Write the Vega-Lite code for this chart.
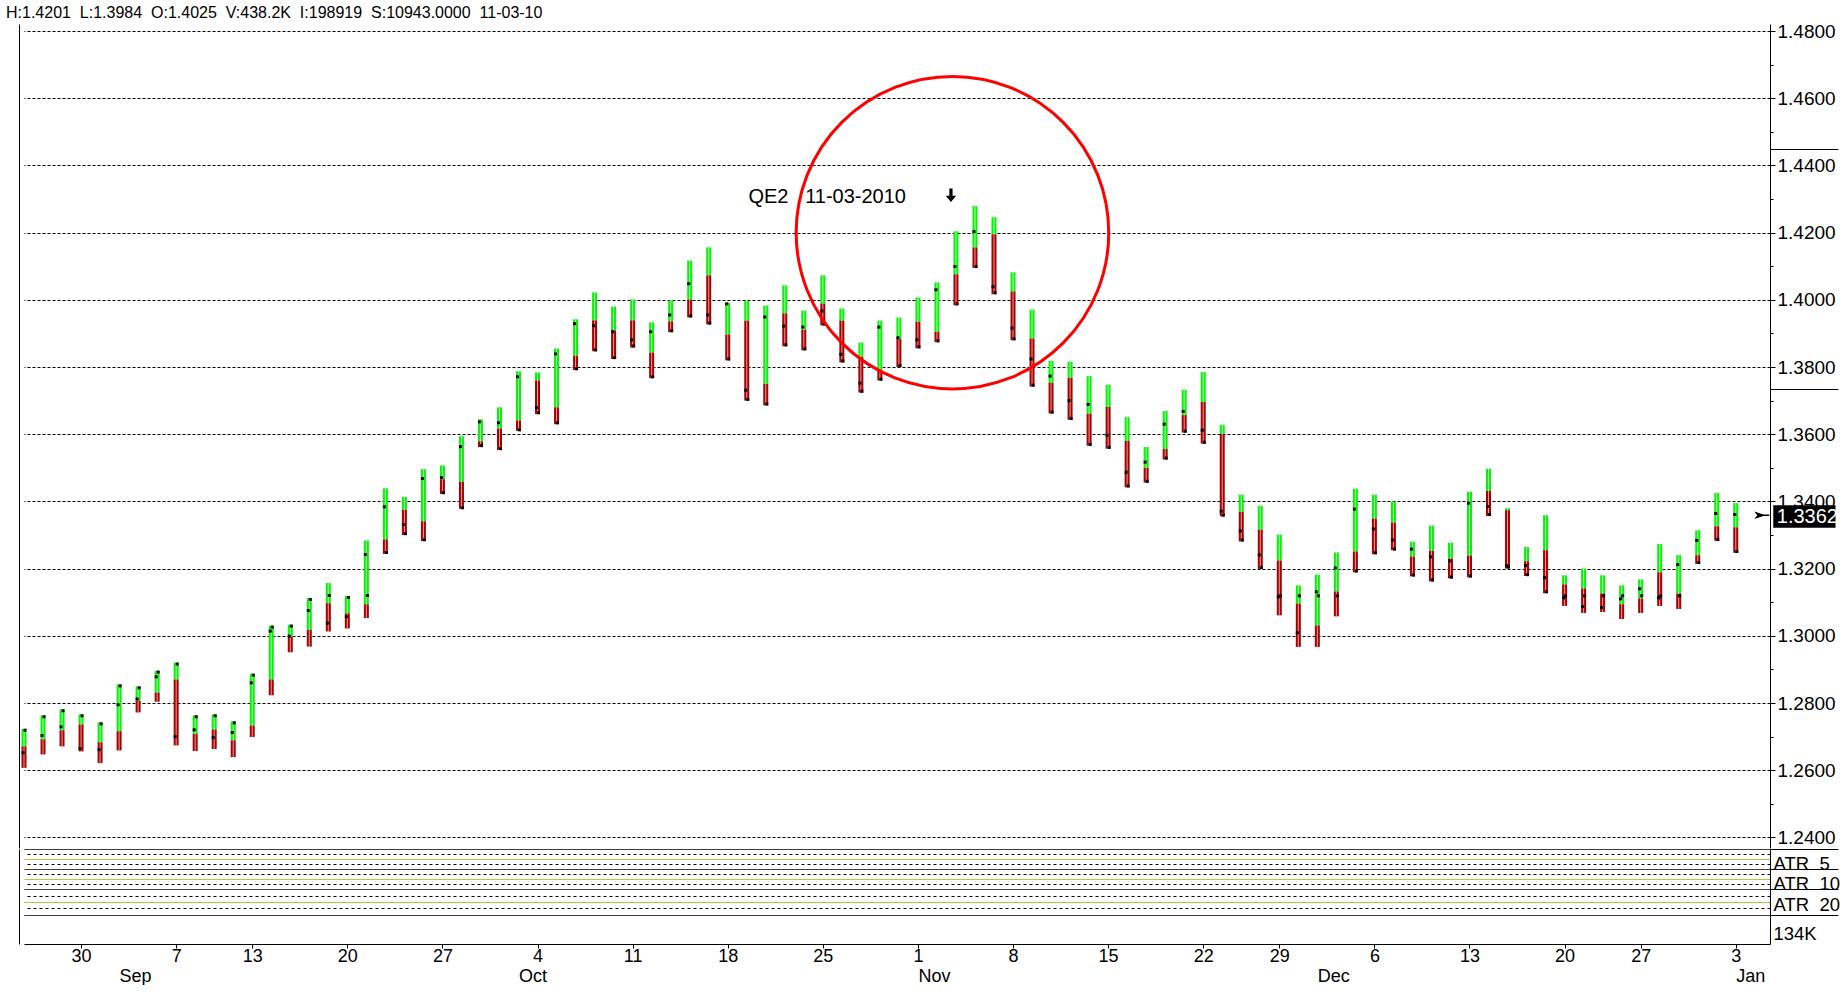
{
  "$schema": "https://vega.github.io/schema/vega-lite/v6.json",
  "background": "white",
  "padding": {"left": 6, "top": 4, "right": 0, "bottom": 0},
  "title": {"text": "H:1.4201\u00a0\u00a0L:1.3984\u00a0\u00a0O:1.4025\u00a0\u00a0V:438.2K\u00a0\u00a0I:198919\u00a0\u00a0S:10943.0000\u00a0\u00a011-03-10", "anchor": "start", "frame": "group", "font": "Liberation Sans", "fontSize": 16, "fontWeight": "normal", "color": "black", "offset": 1.5, "dx": -18},
  "config": {"view": {"stroke": null}, "axis": {"labelFont": "Liberation Sans", "labelColor": "black", "tickColor": "black", "domainColor": "black"}},
  "datasets": {
    "bars": [
      {"d":"2010-08-25","high":1.2723,"split":1.2671,"low":1.2607,"open":1.2652,"close":1.2719},
      {"d":"2010-08-26","high":1.2763,"split":1.2692,"low":1.2647,"open":1.2703,"close":1.2759},
      {"d":"2010-08-27","high":1.2781,"split":1.2719,"low":1.2671,"open":1.2729,"close":1.2777},
      {"d":"2010-08-30","high":1.2766,"split":1.2736,"low":1.2656,"open":1.2664,"close":1.2762},
      {"d":"2010-08-31","high":1.2742,"split":1.2683,"low":1.2621,"open":1.2661,"close":1.2738},
      {"d":"2010-09-01","high":1.2855,"split":1.2716,"low":1.2659,"open":1.2795,"close":1.2851},
      {"d":"2010-09-02","high":1.2849,"split":1.2807,"low":1.2772,"open":1.2812,"close":1.2845},
      {"d":"2010-09-03","high":1.2896,"split":1.2831,"low":1.2804,"open":1.2878,"close":1.2892},
      {"d":"2010-09-07","high":1.2920,"split":1.2870,"low":1.2674,"open":1.2700,"close":1.2916},
      {"d":"2010-09-08","high":1.2763,"split":1.2708,"low":1.2657,"open":1.2720,"close":1.2759},
      {"d":"2010-09-09","high":1.2766,"split":1.2721,"low":1.2663,"open":1.2697,"close":1.2762},
      {"d":"2010-09-10","high":1.2745,"split":1.2689,"low":1.2639,"open":1.2712,"close":1.2741},
      {"d":"2010-09-13","high":1.2887,"split":1.2733,"low":1.2699,"open":1.2860,"close":1.2883},
      {"d":"2010-09-14","high":1.3030,"split":1.2870,"low":1.2823,"open":1.3014,"close":1.3026},
      {"d":"2010-09-15","high":1.3033,"split":1.2997,"low":1.2951,"open":1.2999,"close":1.3029},
      {"d":"2010-09-16","high":1.3112,"split":1.3018,"low":1.2968,"open":1.3075,"close":1.3108},
      {"d":"2010-09-17","high":1.3157,"split":1.3097,"low":1.3013,"open":1.3038,"close":1.3120},
      {"d":"2010-09-20","high":1.3118,"split":1.3067,"low":1.3022,"open":1.3057,"close":1.3114},
      {"d":"2010-09-21","high":1.3284,"split":1.3094,"low":1.3053,"open":1.3242,"close":1.3120},
      {"d":"2010-09-22","high":1.3439,"split":1.3287,"low":1.3244,"open":1.3384,"close":1.3248},
      {"d":"2010-09-23","high":1.3413,"split":1.3375,"low":1.3300,"open":1.3331,"close":1.3304},
      {"d":"2010-09-24","high":1.3496,"split":1.3341,"low":1.3282,"open":1.3468,"close":1.3286},
      {"d":"2010-09-27","high":1.3507,"split":1.3466,"low":1.3422,"open":1.3471,"close":1.3426},
      {"d":"2010-09-28","high":1.3594,"split":1.3458,"low":1.3378,"open":1.3563,"close":1.3381},
      {"d":"2010-09-29","high":1.3644,"split":1.3579,"low":1.3562,"open":1.3637,"close":1.3566},
      {"d":"2010-09-30","high":1.3680,"split":1.3617,"low":1.3553,"open":1.3634,"close":1.3557},
      {"d":"2010-10-01","high":1.3787,"split":1.3641,"low":1.3610,"open":1.3771,"close":1.3613},
      {"d":"2010-10-04","high":1.3784,"split":1.3760,"low":1.3660,"open":1.3679,"close":1.3664},
      {"d":"2010-10-05","high":1.3855,"split":1.3680,"low":1.3630,"open":1.3839,"close":1.3634},
      {"d":"2010-10-06","high":1.3942,"split":1.3834,"low":1.3791,"open":1.3929,"close":1.3795},
      {"d":"2010-10-07","high":1.4022,"split":1.3939,"low":1.3847,"open":1.3923,"close":1.3851},
      {"d":"2010-10-08","high":1.3980,"split":1.3909,"low":1.3824,"open":1.3905,"close":1.3828},
      {"d":"2010-10-11","high":1.4001,"split":1.3939,"low":1.3858,"open":1.3881,"close":1.3863},
      {"d":"2010-10-12","high":1.3933,"split":1.3843,"low":1.3767,"open":1.3905,"close":1.3771},
      {"d":"2010-10-13","high":1.3998,"split":1.3936,"low":1.3904,"open":1.3955,"close":1.3908},
      {"d":"2010-10-14","high":1.4117,"split":1.4001,"low":1.3948,"open":1.4048,"close":1.3952},
      {"d":"2010-10-15","high":1.4156,"split":1.4073,"low":1.3927,"open":1.3955,"close":1.3931},
      {"d":"2010-10-18","high":1.3991,"split":1.3897,"low":1.3820,"open":1.3988,"close":1.3824},
      {"d":"2010-10-19","high":1.3997,"split":1.3938,"low":1.3700,"open":1.3731,"close":1.3704},
      {"d":"2010-10-20","high":1.3983,"split":1.3750,"low":1.3686,"open":1.3949,"close":1.3690},
      {"d":"2010-10-21","high":1.4043,"split":1.3960,"low":1.3862,"open":1.3922,"close":1.3866},
      {"d":"2010-10-22","high":1.3968,"split":1.3911,"low":1.3850,"open":1.3919,"close":1.3854},
      {"d":"2010-10-25","high":1.4073,"split":1.3989,"low":1.3924,"open":1.3967,"close":1.3928},
      {"d":"2010-10-26","high":1.3974,"split":1.3938,"low":1.3814,"open":1.3838,"close":1.3818},
      {"d":"2010-10-27","high":1.3873,"split":1.3830,"low":1.3724,"open":1.3752,"close":1.3728},
      {"d":"2010-10-28","high":1.3938,"split":1.3792,"low":1.3760,"open":1.3919,"close":1.3764},
      {"d":"2010-10-29","high":1.3947,"split":1.3883,"low":1.3800,"open":1.3887,"close":1.3804},
      {"d":"2010-11-01","high":1.4007,"split":1.3935,"low":1.3856,"open":1.3881,"close":1.3860},
      {"d":"2010-11-02","high":1.4052,"split":1.3905,"low":1.3874,"open":1.4030,"close":1.3878},
      {"d":"2010-11-03","high":1.4204,"split":1.4076,"low":1.3984,"open":1.4099,"close":1.3988},
      {"d":"2010-11-04","high":1.4279,"split":1.4156,"low":1.4095,"open":1.4203,"close":1.4099},
      {"d":"2010-11-05","high":1.4246,"split":1.4195,"low":1.4017,"open":1.4039,"close":1.4021},
      {"d":"2010-11-08","high":1.4082,"split":1.4025,"low":1.3880,"open":1.3916,"close":1.3884},
      {"d":"2010-11-09","high":1.3971,"split":1.3885,"low":1.3742,"open":1.3824,"close":1.3746},
      {"d":"2010-11-10","high":1.3819,"split":1.3753,"low":1.3662,"open":1.3773,"close":1.3666},
      {"d":"2010-11-11","high":1.3816,"split":1.3768,"low":1.3643,"open":1.3700,"close":1.3647},
      {"d":"2010-11-12","high":1.3773,"split":1.3661,"low":1.3566,"open":1.3689,"close":1.3570},
      {"d":"2010-11-15","high":1.3747,"split":1.3681,"low":1.3557,"open":1.3597,"close":1.3561},
      {"d":"2010-11-16","high":1.3651,"split":1.3580,"low":1.3442,"open":1.3487,"close":1.3446},
      {"d":"2010-11-17","high":1.3562,"split":1.3500,"low":1.3456,"open":1.3517,"close":1.3460},
      {"d":"2010-11-18","high":1.3669,"split":1.3556,"low":1.3525,"open":1.3630,"close":1.3529},
      {"d":"2010-11-19","high":1.3732,"split":1.3657,"low":1.3605,"open":1.3668,"close":1.3609},
      {"d":"2010-11-22","high":1.3785,"split":1.3696,"low":1.3572,"open":1.3612,"close":1.3576},
      {"d":"2010-11-23","high":1.3628,"split":1.3601,"low":1.3356,"open":1.3371,"close":1.3359},
      {"d":"2010-11-24","high":1.3420,"split":1.3369,"low":1.3281,"open":1.3312,"close":1.3285},
      {"d":"2010-11-26","high":1.3387,"split":1.3316,"low":1.3199,"open":1.3241,"close":1.3203},
      {"d":"2010-11-29","high":1.3301,"split":1.3224,"low":1.3061,"open":1.3116,"close":1.3119},
      {"d":"2010-11-30","high":1.3150,"split":1.3096,"low":1.2967,"open":1.3009,"close":1.3119},
      {"d":"2010-12-01","high":1.3182,"split":1.3031,"low":1.2967,"open":1.3131,"close":1.3119},
      {"d":"2010-12-02","high":1.3248,"split":1.3132,"low":1.3058,"open":1.3202,"close":1.3119},
      {"d":"2010-12-03","high":1.3438,"split":1.3251,"low":1.3189,"open":1.3377,"close":1.3193},
      {"d":"2010-12-06","high":1.3420,"split":1.3349,"low":1.3243,"open":1.3318,"close":1.3247},
      {"d":"2010-12-07","high":1.3399,"split":1.3337,"low":1.3255,"open":1.3285,"close":1.3258},
      {"d":"2010-12-08","high":1.3280,"split":1.3236,"low":1.3177,"open":1.3258,"close":1.3181},
      {"d":"2010-12-09","high":1.3328,"split":1.3253,"low":1.3162,"open":1.3235,"close":1.3166},
      {"d":"2010-12-10","high":1.3277,"split":1.3230,"low":1.3171,"open":1.3223,"close":1.3175},
      {"d":"2010-12-13","high":1.3429,"split":1.3239,"low":1.3174,"open":1.3395,"close":1.3178},
      {"d":"2010-12-14","high":1.3497,"split":1.3431,"low":1.3357,"open":1.3385,"close":1.3361},
      {"d":"2010-12-15","high":1.3380,"split":1.3374,"low":1.3200,"open":1.3209,"close":1.3205},
      {"d":"2010-12-16","high":1.3264,"split":1.3222,"low":1.3178,"open":1.3209,"close":1.3182},
      {"d":"2010-12-17","high":1.3359,"split":1.3255,"low":1.3127,"open":1.3173,"close":1.3131},
      {"d":"2010-12-20","high":1.3180,"split":1.3153,"low":1.3089,"open":1.3113,"close":1.3119},
      {"d":"2010-12-21","high":1.3200,"split":1.3141,"low":1.3068,"open":1.3087,"close":1.3119},
      {"d":"2010-12-22","high":1.3180,"split":1.3126,"low":1.3071,"open":1.3084,"close":1.3119},
      {"d":"2010-12-23","high":1.3150,"split":1.3094,"low":1.3050,"open":1.3110,"close":1.3119},
      {"d":"2010-12-27","high":1.3168,"split":1.3111,"low":1.3068,"open":1.3140,"close":1.3119},
      {"d":"2010-12-28","high":1.3273,"split":1.3189,"low":1.3089,"open":1.3113,"close":1.3119},
      {"d":"2010-12-29","high":1.3240,"split":1.3126,"low":1.3080,"open":1.3212,"close":1.3119},
      {"d":"2010-12-30","high":1.3314,"split":1.3240,"low":1.3214,"open":1.3284,"close":1.3218},
      {"d":"2010-12-31","high":1.3425,"split":1.3326,"low":1.3283,"open":1.3364,"close":1.3287},
      {"d":"2011-01-03","high":1.3395,"split":1.3323,"low":1.3247,"open":1.3361,"close":1.3251}
    ],
    "qe2": [{"d":"2010-11-03","price":1.4310,"center":1.42,"label":"QE2\u00a0\u00a0\u00a011-03-2010"}],
    "last": [{"d":"2011-01-03","price":1.3362,"label":"1.3362"}]
  },
  "vconcat": [
    {
      "width": 1746,
      "height": 824,
      "data": {"name": "bars"},
      "layer": [
        {"mark": {"type": "rule", "strokeWidth": 5, "color": "#0af00a"},
         "encoding": {
           "x": {"field": "d", "type": "ordinal", "scale": {"type": "point", "padding": 0.9, "align": 0}, "axis": null},
           "y": {"field": "split", "type": "quantitative", "scale": {"domain": [1.23684, 1.48211], "nice": false, "zero": false},
                 "axis": {"orient": "right", "title": null, "values": [1.24,1.26,1.28,1.30,1.32,1.34,1.36,1.38,1.40,1.42,1.44,1.46,1.48], "format": ".4f", "labelFontSize": 19, "labelPadding": 2, "tickSize": 5, "grid": true, "gridColor": "black", "gridDash": [3,2], "gridOpacity": 1, "labelOverlap": false, "labelFlush": false}},
           "y2": {"field": "high"}}},
        {"mark": {"type": "rule", "strokeWidth": 5, "color": "#a60000"},
         "encoding": {
           "x": {"field": "d", "type": "ordinal", "scale": {"type": "point", "padding": 0.9, "align": 0}, "axis": null},
           "y": {"field": "low", "type": "quantitative", "scale": {"domain": [1.23684, 1.48211], "nice": false, "zero": false},
                 "axis": {"orient": "right", "title": null, "values": [1.25,1.27,1.29,1.31,1.33,1.35,1.37,1.39,1.41,1.43,1.45,1.47], "labels": false, "grid": false, "domain": false, "tickSize": 3}},
           "y2": {"field": "split"}}},
        {"mark": {"type": "rule", "strokeWidth": 1, "color": "#a8ffa8"},
         "encoding": {
           "x": {"field": "d", "type": "ordinal", "scale": {"type": "point", "padding": 0.9, "align": 0}, "axis": null},
           "y": {"field": "split", "type": "quantitative", "scale": {"domain": [1.23684, 1.48211], "nice": false, "zero": false},
                 "axis": {"orient": "right", "title": null, "values": [1.4449, 1.3735], "labels": false, "grid": false, "domain": false, "tickSize": 68}},
           "y2": {"field": "high"}}},
        {"mark": {"type": "rule", "strokeWidth": 1, "color": "#e3a0a0"},
         "encoding": {
           "x": {"field": "d", "type": "ordinal", "scale": {"type": "point", "padding": 0.9, "align": 0}, "axis": null},
           "y": {"field": "low", "type": "quantitative", "scale": {"domain": [1.23684, 1.48211], "nice": false, "zero": false},
                 "axis": {"orient": "left", "title": null, "offset": 5, "labels": false, "ticks": false, "grid": false, "domain": true}},
           "y2": {"field": "split"}}},
        {"mark": {"type": "point", "shape": "square", "size": 9, "filled": true, "color": "black", "opacity": 1, "xOffset": -1},
         "encoding": {
           "x": {"field": "d", "type": "ordinal", "scale": {"type": "point", "padding": 0.9, "align": 0}, "axis": null},
           "y": {"field": "open", "type": "quantitative", "scale": {"domain": [1.23684, 1.48211], "nice": false, "zero": false}, "axis": null}}},
        {"mark": {"type": "point", "shape": "square", "size": 9, "filled": true, "color": "black", "opacity": 1, "xOffset": 1},
         "encoding": {
           "x": {"field": "d", "type": "ordinal", "scale": {"type": "point", "padding": 0.9, "align": 0}, "axis": null},
           "y": {"field": "close", "type": "quantitative", "scale": {"domain": [1.23684, 1.48211], "nice": false, "zero": false}, "axis": null}}},
        {"data": {"name": "qe2"},
         "mark": {"type": "point", "shape": "circle", "size": 97700, "filled": false, "stroke": "#ff0000", "strokeWidth": 3, "opacity": 1, "xOffset": -3.5},
         "encoding": {
           "x": {"field": "d", "type": "ordinal", "scale": {"type": "point", "padding": 0.9, "align": 0}, "axis": null},
           "y": {"field": "center", "type": "quantitative", "scale": {"domain": [1.23684, 1.48211], "nice": false, "zero": false}, "axis": null}}},
        {"data": {"name": "qe2"},
         "mark": {"type": "point", "shape": "M-0.2,-0.9H0.2V0H0.65L0,0.8L-0.65,0H-0.2Z", "size": 256, "filled": true, "color": "black", "opacity": 1, "xOffset": -5},
         "encoding": {
           "x": {"field": "d", "type": "ordinal", "scale": {"type": "point", "padding": 0.9, "align": 0}, "axis": null},
           "y": {"field": "price", "type": "quantitative", "scale": {"domain": [1.23684, 1.48211], "nice": false, "zero": false}, "axis": null}}},
        {"data": {"name": "qe2"},
         "mark": {"type": "text", "align": "right", "baseline": "middle", "dx": -50, "dy": 1, "font": "Liberation Sans", "fontSize": 20, "color": "black"},
         "encoding": {
           "x": {"field": "d", "type": "ordinal", "scale": {"type": "point", "padding": 0.9, "align": 0}, "axis": null},
           "y": {"field": "price", "type": "quantitative", "scale": {"domain": [1.23684, 1.48211], "nice": false, "zero": false}, "axis": null},
           "text": {"field": "label"}}},
        {"data": {"name": "last"},
         "mark": {"type": "point", "shape": "M0.37,-0.055L0.6,0.02L0.37,0.095L0.43,0.02Z M0.55,0.006H0.67V0.034H0.55Z M0.75,-0.18H1.995V0.27H0.75Z", "size": 10000, "filled": true, "color": "black", "opacity": 1},
         "encoding": {
           "x": {"field": "d", "type": "ordinal", "scale": {"type": "point", "padding": 0.9, "align": 0}, "axis": null},
           "y": {"field": "price", "type": "quantitative", "scale": {"domain": [1.23684, 1.48211], "nice": false, "zero": false}, "axis": null}}},
        {"data": {"name": "last"},
         "mark": {"type": "text", "align": "left", "baseline": "middle", "dx": 41, "dy": 2.5, "font": "Liberation Sans", "fontSize": 20, "color": "white"},
         "encoding": {
           "x": {"field": "d", "type": "ordinal", "scale": {"type": "point", "padding": 0.9, "align": 0}, "axis": null},
           "y": {"field": "price", "type": "quantitative", "scale": {"domain": [1.23684, 1.48211], "nice": false, "zero": false}, "axis": null},
           "text": {"field": "label"}}}
      ],
      "resolve": {"axis": {"y": "independent"}}
    },
    {
      "width": 1746,
      "height": 95,
      "data": {"name": "bars"},
      "layer": [
        {"mark": {"type": "point", "opacity": 0},
         "encoding": {
           "x": {"field": "d", "type": "ordinal", "scale": {"type": "point", "padding": 0.9, "align": 0},
                 "axis": {"orient": "bottom", "title": null, "values": ["2010-08-30","2010-09-07","2010-09-13","2010-09-20","2010-09-27","2010-10-04","2010-10-11","2010-10-18","2010-10-25","2010-11-01","2010-11-08","2010-11-15","2010-11-22","2010-11-29","2010-12-06","2010-12-13","2010-12-20","2010-12-27","2011-01-03"],
                          "labelExpr": "toNumber(substring(datum.value, 8, 10))", "labelAngle": 0, "labelFontSize": 18, "labelPadding": -1, "tickSize": 4, "grid": false, "domain": true, "labelOverlap": false}},
           "y": {"datum": 50, "type": "quantitative", "scale": {"domain": [0, 95], "reverse": true, "nice": false, "zero": false},
                 "axis": {"orient": "right", "title": null, "values": [0, 5, 10, 15, 20, 25, 30, 35, 40, 46.7, 53, 59.4, 66], "labels": false, "domain": true, "grid": true, "gridOpacity": 1,
                          "gridColor": {"condition": {"test": "indexof([10, 30, 53], datum.value) >= 0", "value": "#7cc400"}, "value": "black"},
                          "gridDash": {"condition": {"test": "indexof([5, 15, 25, 35, 46.7, 59.4], datum.value) >= 0", "value": [3, 3]}, "value": [1, 0]},
                          "tickSize": 68,
                          "tickOpacity": {"condition": {"test": "indexof([0, 20, 40, 66], datum.value) >= 0", "value": 1}, "value": 0}}}}},
        {"mark": {"type": "point", "opacity": 0},
         "encoding": {
           "x": {"field": "d", "type": "ordinal", "scale": {"type": "point", "padding": 0.9, "align": 0},
                 "axis": {"orient": "bottom", "title": null, "values": ["2010-09-01","2010-10-01","2010-11-01","2010-12-01","2011-01-03"],
                          "labelExpr": "{'09':'Sep','10':'Oct','11':'Nov','12':'Dec','01':'Jan'}[substring(datum.value, 5, 7)]", "labelAngle": 0, "labelAlign": "left", "labelFontSize": 18, "labelPadding": 23, "ticks": true, "tickSize": 0, "tickOpacity": 0, "grid": false, "domain": false, "labelOverlap": false}},
           "y": {"datum": 50, "type": "quantitative", "scale": {"domain": [0, 95], "reverse": true, "nice": false, "zero": false},
                 "axis": {"orient": "right", "title": null, "values": [14.4, 34.7, 55.7, 84.4], "labelExpr": "datum.value < 20 ? 'ATR\u00a0\u00a05' : datum.value < 40 ? 'ATR\u00a0\u00a010' : datum.value < 66 ? 'ATR\u00a0\u00a020' : '134K'", "labelFontSize": 18.5, "labelPadding": 3, "ticks": false, "grid": false, "domain": false, "labelOverlap": false, "labelFlush": false}}}},
        {"mark": {"type": "point", "opacity": 0},
         "encoding": {
           "x": {"field": "d", "type": "ordinal", "scale": {"type": "point", "padding": 0.9, "align": 0}, "axis": null},
           "y": {"datum": 50, "type": "quantitative", "scale": {"domain": [0, 95], "reverse": true, "nice": false, "zero": false},
                 "axis": {"orient": "left", "title": null, "offset": 5, "labels": false, "ticks": false, "grid": false, "domain": true}}}}
      ],
      "resolve": {"axis": {"x": "independent", "y": "independent"}}
    }
  ],
  "spacing": 0
}
